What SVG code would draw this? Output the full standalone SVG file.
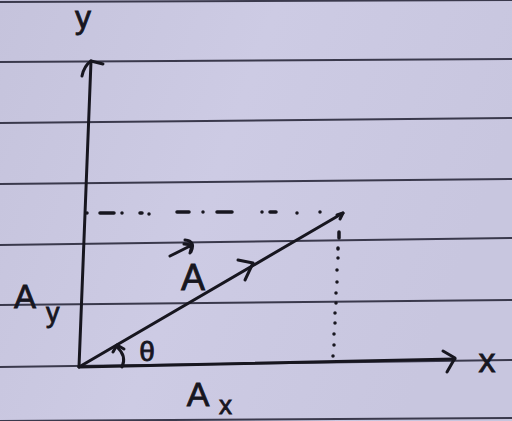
<svg xmlns="http://www.w3.org/2000/svg" width="512" height="421" viewBox="0 0 512 421">
<defs>
<linearGradient id="paper" x1="0" y1="0" x2="1" y2="0.3">
<stop offset="0" stop-color="#c5c3dc"/>
<stop offset="0.5" stop-color="#cdcbe4"/>
<stop offset="1" stop-color="#c8c6df"/>
</linearGradient>
<style>
.rule{stroke:#3a394c;stroke-width:2;fill:none}
.ink{stroke:#17161f;stroke-width:3;fill:none;stroke-linecap:round;stroke-linejoin:round}
.dot{stroke:#17161f;stroke-width:3.5;fill:none;stroke-linecap:round}
.lbl{font-family:"Liberation Sans",Arial,sans-serif;fill:#17161f;stroke:#17161f;stroke-width:0.8}
</style>
</defs>
<rect width="512" height="421" fill="url(#paper)"/>
<g id="rules">
<line class="rule" x1="0" y1="2" x2="512" y2="0"/>
<line class="rule" x1="0" y1="62" x2="512" y2="59"/>
<line class="rule" x1="0" y1="123" x2="512" y2="118"/>
<line class="rule" x1="0" y1="184" x2="512" y2="179"/>
<line class="rule" x1="0" y1="245" x2="512" y2="238"/>
<line class="rule" x1="0" y1="305" x2="512" y2="300"/>
<line class="rule" x1="0" y1="367" x2="512" y2="360"/>
<line class="rule" x1="0" y1="421" x2="512" y2="418"/>
</g>
<g id="connectors">
<g id="y-axis">
<line class="ink" x1="79" y1="367" x2="91" y2="61"/>
<path class="ink" d="M82 76 Q84 66 91 61 L103 64"/>
</g>
<g id="x-axis">
<line class="ink" x1="79" y1="367" x2="455" y2="359" stroke-width="3.5"/>
<path class="ink" d="M443 351 L455 358 L447 372"/>
</g>
<g id="vector-A">
<line class="ink" x1="79" y1="367" x2="343" y2="213"/>
<path class="ink" d="M337 215 L343 213 L340 219"/>
<path class="ink" d="M238 260 L253 263 L245 280"/>
</g>
<g id="projections">
<path class="dot" d="M87 213 h0 M100 213 h14 M122 213 h0 M140 213 h2 M149 214 h0 M177 212 h12 M203 212 h0 M217 212 h15 M262 212 h0 M270 212 h6 M297 213 h0 M320 212 h0"/>
<path class="dot" d="M339 232 v6 M338 248 v1 M338 258 v0 M337 270 v0 M337 282 v0 M336 293 v0 M336 303 v0 M335 313 v0 M335 323 v0 M334 334 v0 M334 345 v0 M333 356 v0"/>
</g>
<g id="angle-arc">
<path class="ink" d="M117 347 Q127 356 122 367" stroke-width="2.5"/>
<path class="ink" d="M113 352 L117 345 L124 349" stroke-width="2.5"/>
</g>
</g>
<g id="label-y"><text class="lbl" x="83" y="28" font-size="32" text-anchor="middle">y</text></g>
<g id="label-x"><text class="lbl" x="487" y="372" font-size="34" text-anchor="middle">x</text></g>
<g id="label-A">
<path class="ink" d="M170 256 L192 245 M184 244 L192 245 L190 253 M185 240 Q196 241 191 252" stroke-width="2.5"/>
<text class="lbl" x="193" y="290" font-size="36" text-anchor="middle">A</text>
</g>
<g id="label-Ay">
<text class="lbl" x="25" y="308" font-size="33" text-anchor="middle">A</text>
<text class="lbl" x="46" y="322" font-size="27">y</text>
</g>
<g id="label-Ax">
<text class="lbl" x="198" y="406" font-size="34" text-anchor="middle">A</text>
<text class="lbl" x="219" y="414" font-size="26">x</text>
</g>
<g id="label-theta"><text class="lbl" x="147" y="361" font-size="28" text-anchor="middle">θ</text></g>
</svg>
